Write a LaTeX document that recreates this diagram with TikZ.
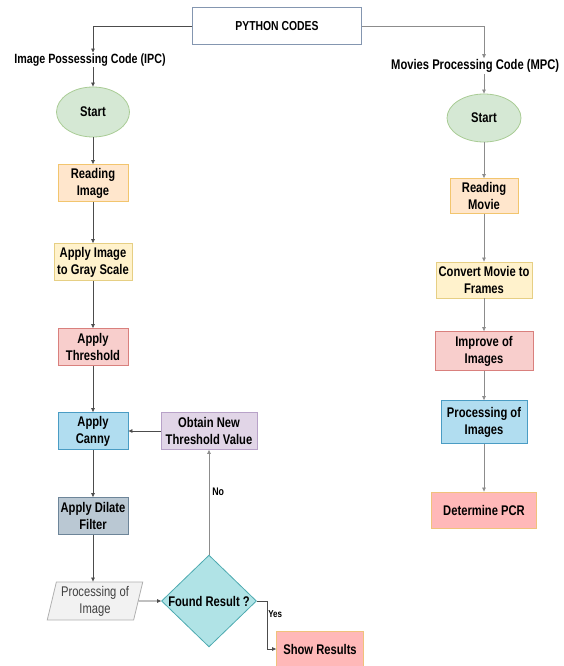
\documentclass[tikz,border=0pt]{standalone}
\usepackage{fontspec}
\setmainfont{Liberation Sans}[FakeStretch=0.8]
\usepackage{xcolor}
\usepackage{tikz}
\usetikzlibrary{arrows.meta,positioning,shapes,shapes.geometric,arrows}

\definecolor{pyline}{HTML}{8496B0}
\definecolor{greenfill}{HTML}{D5E8D4}
\definecolor{greenline}{HTML}{A9CC95}
\definecolor{orangefill}{HTML}{FFE6CC}
\definecolor{orangeline}{HTML}{F2C56E}
\definecolor{yellowfill}{HTML}{FFF2CC}
\definecolor{yellowline}{HTML}{E6CF84}
\definecolor{redfill}{HTML}{F8CECC}
\definecolor{redline}{HTML}{D9807D}
\definecolor{bluefill}{HTML}{B1DDF0}
\definecolor{blueline}{HTML}{4A9CC4}
\definecolor{slatefill}{HTML}{BAC8D3}
\definecolor{slateline}{HTML}{6D8599}
\definecolor{lilacfill}{HTML}{E1D5E7}
\definecolor{lilacline}{HTML}{B8A2C8}
\definecolor{tealfill}{HTML}{B0E3E6}
\definecolor{tealline}{HTML}{4DAAB0}
\definecolor{pinkfill}{HTML}{FFB8B8}
\definecolor{pinkline}{HTML}{F0C27B}
\definecolor{grayfill}{HTML}{F2F2F2}
\definecolor{grayline}{HTML}{B0B0B0}

\begin{document}
\begin{tikzpicture}[node distance=84pt,
    box/.style={draw, rectangle, align=center, line width=0.8pt,
                font=\bfseries\fontsize{14}{17}\selectfont,
                inner xsep=2pt, inner ysep=2pt, minimum height=37pt},
    startnode/.style={draw, ellipse, fill=greenfill, draw=greenline, line width=0.8pt,
                font=\bfseries\fontsize{14}{17}\selectfont, inner sep=0pt},
    lbl/.style={font=\bfseries\fontsize{13}{15}\selectfont, inner sep=1pt},
    arr/.style={-{Triangle[length=4pt,width=3.5pt]}, line width=0.7pt, draw=black!70},
    arrlight/.style={arr, draw=black!45}]
    \useasboundingbox (0,0) rectangle (563pt,-666pt);

    \node[box, minimum width=169pt, draw=pyline, font=\bfseries\fontsize{13}{15}\selectfont] (py) at (277pt,-26pt) {PYTHON CODES};

    % image processing column
    \node[lbl, font=\bfseries\fontsize{13.4}{15}\selectfont] (ipc) at (90pt,-60pt) {Image Possessing Code (IPC)};
    \node[startnode, minimum width=73pt, minimum height=50pt] (startL) at (93pt,-112pt) {Start};
    \node[box, below of=startL, node distance=71pt, minimum width=70pt, fill=orangefill, draw=orangeline] (readimg) {Reading\\Image};
    \node[box, below of=readimg, node distance=79pt, minimum width=78pt, fill=yellowfill, draw=yellowline] (gray) {Apply Image\\to Gray Scale};
    \node[box, below of=gray, node distance=85pt, minimum width=70pt, fill=redfill, draw=redline] (thresh) {Apply\\Threshold};
    \node[box, below of=thresh, minimum width=70pt, fill=bluefill, draw=blueline] (canny) {Apply\\Canny};
    \node[box, below of=canny, node distance=85pt, minimum width=70pt, fill=slatefill, draw=slateline] (dilate) {Apply Dilate\\Filter};
    \node[box, trapezium, trapezium left angle=76, trapezium right angle=104, trapezium stretches=true,
          below of=dilate, node distance=85pt, xshift=2pt, minimum width=96pt, minimum height=38pt,
          fill=grayfill, draw=grayline, text=black!75, font=\fontsize{14}{17}\selectfont] (procimg) {Processing of\\Image};
    \node[box, diamond, right of=procimg, node distance=114pt, inner sep=0pt, minimum width=95pt, minimum height=90pt,
          fill=tealfill, draw=tealline] (found) {Found Result ?};
    \node[box, right of=canny, node distance=116pt, minimum width=96pt, fill=lilacfill, draw=lilacline] (newthr) {Obtain New\\Threshold Value};
    \node[box, below of=found, node distance=48pt, xshift=111pt, minimum width=87pt, minimum height=36pt,
          fill=pinkfill, draw=pinkline] (show) {Show Results};

    % movie processing column
    \node[lbl, anchor=west, font=\bfseries\fontsize{14}{16}\selectfont] (mpc) at (390pt,-66pt) {Movies Processing Code (MPC)};
    \node[startnode, minimum width=74pt, minimum height=48pt] (startR) at (484pt,-118pt) {Start};
    \node[box, below of=startR, node distance=78pt, minimum width=68pt, minimum height=35pt, fill=orangefill, draw=orangeline] (readmov) {Reading\\Movie};
    \node[box, below of=readmov, minimum width=96pt, minimum height=36pt, fill=yellowfill, draw=yellowline] (frames) {Convert Movie to\\Frames};
    \node[box, below of=frames, node distance=71pt, minimum width=98pt, minimum height=39pt, fill=redfill, draw=redline] (improve) {Improve of\\Images};
    \node[box, below of=improve, node distance=71pt, minimum width=86pt, minimum height=43pt, fill=bluefill, draw=blueline] (procimgs) {Processing of\\Images};
    \node[box, below of=procimgs, node distance=88pt, minimum width=105pt, minimum height=36pt, fill=pinkfill, draw=pinkline] (pcr) {Determine PCR};

    \draw[arr] (py.west) -| (startL |- ipc.north);
    \draw[arr] (startL |- ipc.south) -- (startL);
    \draw[arr] (startL) -- (readimg);
    \draw[arr] (readimg) -- (gray);
    \draw[arr] (gray) -- (thresh);
    \draw[arr] (thresh) -- (canny);
    \draw[arr] (canny) -- (dilate);
    \draw[arr] (dilate) -- (dilate |- procimg.north);
    \draw[arr] (procimg) -- (found);
    \draw[arrlight] (found) -- node[pos=0.6, right, lbl, font=\bfseries\fontsize{11}{13}\selectfont, xshift=2pt]{No} (newthr);
    \draw[arr] (newthr) -- (canny);
    \draw[arr] (found.east) -- ++(10pt,0) |- node[pos=0.14, right, lbl, font=\bfseries\fontsize{10}{12}\selectfont]{Yes} (show.west);

    \draw[arrlight] (py.east) -| (startR |- mpc.north);
    \draw[arrlight] (startR |- mpc.south) -- (startR);
    \draw[arrlight] (startR) -- (readmov);
    \draw[arrlight] (readmov) -- (frames);
    \draw[arrlight] (frames) -- (improve);
    \draw[arrlight] (improve) -- (procimgs);
    \draw[arrlight] (procimgs) -- (pcr);
\end{tikzpicture}
\end{document}
